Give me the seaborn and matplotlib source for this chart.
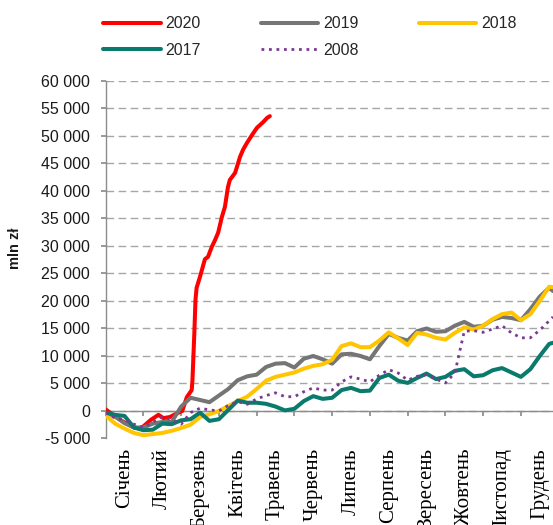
"""
Cumulative budget balance by year (mln zł), recreated with seaborn.
Values read off the reference picture, roughly weekly (quarter-month) steps.
"""

import numpy as np
import pandas as pd
import matplotlib.pyplot as plt
import seaborn as sns
from matplotlib.ticker import FuncFormatter

# ---------------------------------------------------------------------------
# Data - x in months from 1 January, y in thousands of mln zł
# ---------------------------------------------------------------------------
MONTH_LABELS = ["Січень", "Лютий", "Березень", "Квітень", "Травень", "Червень",
                "Липень", "Серпень", "Вересень", "Жовтень", "Листопад", "Грудень"]

# quarter-month grid used by the full-year series
MONTHS_Q = [0, 0.25, 0.5, 0.75, 1, 1.25, 1.5, 1.75, 2, 2.25, 2.5, 2.75,
            3, 3.25, 3.5, 3.75, 4, 4.25, 4.5, 4.75, 5, 5.25, 5.5, 5.75,
            6, 6.25, 6.5, 6.75, 7, 7.25, 7.5, 7.75, 8, 8.25, 8.5, 8.75,
            9, 9.25, 9.5, 9.75, 10, 10.25, 10.5, 10.75, 11, 11.25, 11.5,
            11.75, 11.85]

Y2019 = [-0.3, -1.0, -2.2, -3.0, -3.0, -2.3, -2.0, -2.0, 0.8, 2.4, 2.0, 1.6,
         2.8, 4.0, 5.6, 6.3, 6.6, 8.0, 8.6, 8.7, 7.9, 9.5, 10.0, 9.4,
         8.6, 10.3, 10.4, 10.0, 9.4, 11.8, 14.0, 13.3, 12.8, 14.5, 15.0, 14.4,
         14.5, 15.5, 16.2, 15.3, 15.5, 16.6, 17.1, 16.9, 16.5, 18.5, 20.8,
         22.4, 21.8]

Y2018 = [-0.8, -2.3, -3.2, -4.0, -4.4, -4.2, -4.0, -3.6, -3.1, -2.5, -1.1, -0.6,
         0.0, 0.9, 1.8, 2.6, 4.0, 5.5, 6.2, 6.6, 7.0, 7.7, 8.2, 8.5,
         9.3, 11.8, 12.3, 11.6, 11.6, 12.8, 14.3, 13.2, 12.0, 14.2, 13.9, 13.3,
         13.0, 14.2, 15.2, 14.8, 15.5, 16.7, 17.6, 17.9, 16.5, 17.6, 20.0,
         22.6, 22.5]

Y2017 = [-0.3, -0.7, -0.9, -3.0, -3.5, -3.4, -2.3, -2.4, -1.7, -1.5, -0.3, -1.8,
         -1.5, 0.2, 1.9, 1.5, 1.5, 1.3, 0.8, 0.1, 0.4, 1.8, 2.7, 2.2,
         2.4, 3.8, 4.2, 3.6, 3.7, 6.0, 6.6, 5.5, 5.1, 6.0, 6.8, 5.8,
         6.2, 7.3, 7.6, 6.3, 6.5, 7.4, 7.8, 7.0, 6.2, 7.6, 10.0,
         12.2, 12.4]

Y2008 = [-0.3, -1.3, -1.6, -2.4, -3.0, -2.0, -1.1, -1.6, -2.4, -0.3, 0.5, 0.2,
         0.0, 1.0, 1.7, 1.2, 2.2, 2.8, 3.3, 2.6, 2.6, 3.5, 4.2, 3.8,
         3.8, 5.3, 6.2, 5.8, 5.3, 6.5, 7.5, 6.9, 5.6, 6.3, 6.6, 5.8,
         5.1, 6.9, 14.5, 14.6, 14.3, 14.9, 15.5, 14.2, 13.3, 13.3, 14.7,
         16.4, 17.1]

# 2020 stops in May and has a near-vertical jump in March, so own x grid
MONTHS_2020 = [0, 0.25, 0.5, 0.75, 0.9, 1.0, 1.2, 1.4, 1.53, 1.7, 1.9, 2.03,
               2.15, 2.28, 2.3, 2.35, 2.38, 2.41, 2.5, 2.63, 2.71, 2.81, 2.9,
               2.98, 3.08, 3.16, 3.24, 3.29, 3.43, 3.56, 3.64, 3.74, 3.88,
               4.01, 4.17, 4.28, 4.35]
Y2020 = [0.3, -1.0, -2.1, -3.0, -3.2, -2.8, -1.6, -0.7, -1.3, -1.1, -0.4, 0.0,
         2.5, 3.8, 5.6, 14.2, 20.2, 22.4, 24.4, 27.6, 28.0, 29.8, 31.1,
         32.4, 35.3, 37.1, 40.7, 42.0, 43.3, 46.2, 47.5, 48.7, 50.2,
         51.5, 52.5, 53.3, 53.6]

SERIES = ["2020", "2019", "2018", "2017", "2008"]
COLORS = {"2020": "#FF0000", "2019": "#757575", "2018": "#FFC500",
          "2017": "#0A7A6C", "2008": "#7B3A92"}

rows = []
for name, xs, ys in [("2020", MONTHS_2020, Y2020), ("2019", MONTHS_Q, Y2019),
                     ("2018", MONTHS_Q, Y2018), ("2017", MONTHS_Q, Y2017),
                     ("2008", MONTHS_Q, Y2008)]:
    rows.append(pd.DataFrame({"month": xs, "value": np.array(ys) * 1000,
                              "year": name}))
df = pd.concat(rows, ignore_index=True)

# ---------------------------------------------------------------------------
# Plot
# ---------------------------------------------------------------------------
sns.set_theme(style="white")
plt.rcParams["font.family"] = ["Liberation Sans", "DejaVu Sans"]

fig = plt.figure(figsize=(5.53, 5.25), dpi=100)
ax = fig.add_axes([0.191, 0.1648, 0.809, 0.681])

# Excel series order: first series sits at the bottom
for z, name in enumerate(SERIES):
    sub = df[df["year"] == name]
    style = dict(linestyle=(0, (1, 1.7)), linewidth=2.0) if name == "2008" \
        else dict(linewidth=2.9)
    sns.lineplot(data=sub, x="month", y="value", color=COLORS[name],
                 estimator=None, label=name, zorder=3 + z, ax=ax, **style)

ax.set_xlim(0, 11.85)
ax.set_ylim(-5000, 60000)
ax.set_yticks(np.arange(-5000, 60001, 5000))
ax.yaxis.set_major_formatter(FuncFormatter(lambda v, p: f"{int(v):,}".replace(",", " ")))
ax.set_xticks(np.arange(0, 12))
ax.set_xticklabels([])
ax.set_xlabel("")
ax.set_ylabel("")

# dashed horizontal grid, none at the bottom edge
ax.yaxis.grid(True, color="#A6A6A6", linestyle=(0, (5.5, 3.2)), linewidth=1.0)
ax.get_ygridlines()[0].set_visible(False)
ax.set_axisbelow(True)

for side in ["top", "right"]:
    ax.spines[side].set_visible(False)
ax.spines["bottom"].set_position(("data", 0))
for side in ["left", "bottom"]:
    ax.spines[side].set_color("#8C8C8C")
    ax.spines[side].set_linewidth(1.0)
ax.tick_params(axis="y", direction="out", length=3.6, color="#8C8C8C",
               labelsize=11.5, labelcolor="#1A1A1A", pad=7.5, left=True)
ax.tick_params(axis="x", direction="out", length=3.5, color="#8C8C8C",
               bottom=True)

# month names below the plot, written bottom-to-top like Excel
for i, lab in enumerate(MONTH_LABELS):
    ax.text(i + 0.5, -0.027, lab, transform=ax.get_xaxis_transform(),
            rotation=90, ha="center", va="top", fontsize=15,
            family="Liberation Serif", color="black", clip_on=False)

fig.text(15 / 553, 1 - 248 / 525, "mln zł", rotation=90, ha="center",
         va="center", fontsize=10.5, fontweight="bold", color="#1A1A1A")

# legend row-major: 2020 2019 2018 / 2017 2008
handles, labels = ax.get_legend_handles_labels()
order = [0, 3, 1, 4, 2]
ax.get_legend().remove()
fig.legend([handles[i] for i in order], [labels[i] for i in order],
           loc="upper left", bbox_to_anchor=(89 / 553, 1 - 2 / 525),
           ncol=3, frameon=False, fontsize=11.5, handlelength=3.6,
           handletextpad=0.3, columnspacing=3.75, labelspacing=0.7)

fig.savefig("out.png", dpi=100)
